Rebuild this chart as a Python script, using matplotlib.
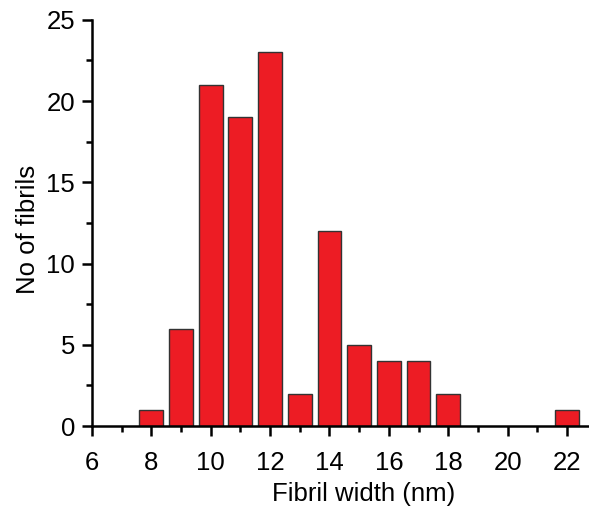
import matplotlib
matplotlib.use("Agg")
import matplotlib.pyplot as plt
from matplotlib.ticker import MultipleLocator

plt.rcParams['font.family'] = ['Liberation Sans', 'DejaVu Sans']

widths = [8, 9, 10, 11, 12, 13, 14, 15, 16, 17, 18, 22]
counts = [1, 6, 21, 19, 23, 2, 12, 5, 4, 4, 2, 1]

fig = plt.figure(figsize=(5.89, 5.09), dpi=100)
ax = fig.add_axes([0.156, 0.163, 0.842, 0.798])
ax.bar(widths, counts, width=0.8, color='#ED1C24', edgecolor='#333333', linewidth=1.0, zorder=2)

ax.set_xlim(6, 22.7)
ax.set_ylim(0, 25)
ax.xaxis.set_major_locator(MultipleLocator(2))
ax.xaxis.set_minor_locator(MultipleLocator(1))
ax.yaxis.set_major_locator(MultipleLocator(5))
ax.yaxis.set_minor_locator(MultipleLocator(2.5))

for s in ['top', 'right']:
    ax.spines[s].set_visible(False)
for s in ['left', 'bottom']:
    ax.spines[s].set_linewidth(1.8)
    ax.spines[s].set_color('black')

ax.tick_params(which='major', direction='out', length=7, width=1.8, labelsize=18.5)
ax.tick_params(axis='y', which='major', pad=5)
ax.tick_params(axis='x', which='major', pad=11)
ax.tick_params(which='minor', direction='out', length=4, width=1.8)

ax.set_xlabel('Fibril width (nm)', fontsize=18.5, labelpad=5)
ax.set_ylabel('No of fibrils', fontsize=18.5, labelpad=5)
ax.xaxis.label.set_x(0.548)
ax.yaxis.label.set_y(0.485)

fig.savefig('out.png', dpi=100)
